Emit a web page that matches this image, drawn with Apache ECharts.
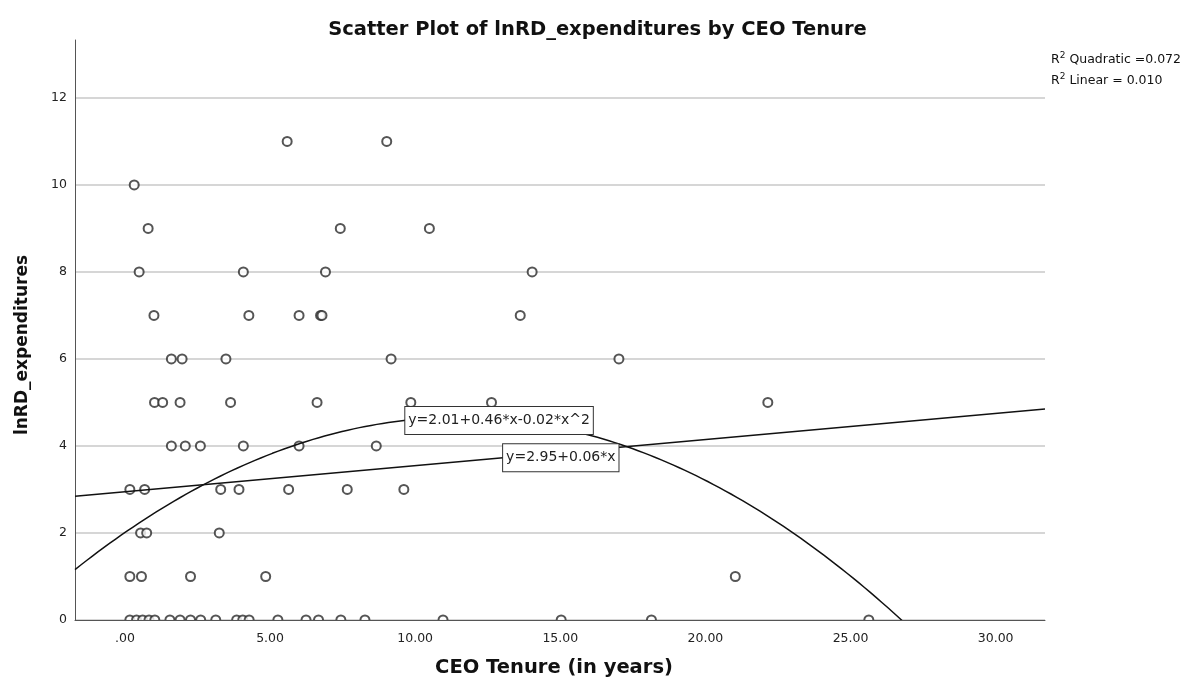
<!DOCTYPE html>
<html>
<head>
<meta charset="utf-8">
<script src="https://cdn.jsdelivr.net/npm/echarts@6/dist/echarts.min.js"></script>
<style>
  html, body { margin: 0; padding: 0; background: #fff; }
  #chart { width: 1195px; height: 690px; }
</style>
</head>
<body>
<div id="chart"></div>
<script>
// lnRD_expenditures (y) against CEO tenure in years (x)
const tenure = [
  5.59, 9.02,
  0.32,
  0.80, 7.42, 10.49,
  0.49, 4.08, 6.91, 14.03,
  1.00, 4.27, 6.00, 6.74, 6.79, 13.62,
  1.60, 1.97, 3.48, 9.17, 17.02,
  1.02, 1.30, 1.90, 3.64, 6.62, 9.85, 12.63, 22.15,
  1.60, 2.08, 2.60, 4.08, 6.00, 8.66,
  0.17, 0.68, 3.30, 3.93, 5.64, 7.66, 9.61,
  0.54, 0.75, 3.25,
  0.17, 0.57, 2.26, 4.85, 21.03,
  0.17, 0.40, 0.61, 0.83, 1.03, 1.55, 1.90, 2.26, 2.61, 3.13, 3.85, 4.06,
  4.28, 5.27, 6.24, 6.67, 7.44, 8.27, 10.96, 15.03, 18.14, 25.63
]
const lnRD = [
  11, 11,
  10,
  9, 9, 9,
  8, 8, 8, 8,
  7, 7, 7, 7, 7, 7,
  6, 6, 6, 6, 6,
  5, 5, 5, 5, 5, 5, 5, 5,
  4, 4, 4, 4, 4, 4,
  3, 3, 3, 3, 3, 3, 3,
  2, 2, 2,
  1, 1, 1, 1, 1,
  0, 0, 0, 0, 0, 0, 0, 0, 0, 0, 0, 0,
  0, 0, 0, 0, 0, 0, 0, 0, 0, 0
]

// fit coefficients printed on the chart
const quadCoef = [2.01, 0.46, -0.02]
const linCoef = [2.95, 0.06]
const quadLabelX = 9.66
const linLabelX = 13.03
const xTicks = [0, 5, 10, 15, 20, 25, 30]
const yTicks = [0, 2, 4, 6, 8, 10, 12]

const xMin = -1.72
const xMax = 31.7

const quad = x => quadCoef[0] + quadCoef[1] * x + quadCoef[2] * x * x
const lin = x => linCoef[0] + linCoef[1] * x

const quadLine = []
for (let x = xMin; x <= xMax; x += 0.2) quadLine.push([x, quad(x)])
const linLine = [[xMin, lin(xMin)], [xMax, lin(xMax)]]

const FONT = 'DejaVu Sans'

const boxLabel = {
  show: true,
  position: 'right',
  distance: 0,
  color: '#222',
  fontFamily: FONT,
  fontSize: 14,
  backgroundColor: '#fff',
  borderColor: '#333',
  borderWidth: 1,
  padding: [7, 3, 6, 3]
}

const chart = echarts.init(document.getElementById('chart'))
chart.setOption({
  animation: false,
  textStyle: { fontFamily: FONT },
  title: [
    {
      text: 'Scatter Plot of lnRD_expenditures by CEO Tenure',
      left: 'center',
      top: 15,
      textStyle: { fontFamily: FONT, fontSize: 19.5, fontWeight: 'bold', color: '#111' }
    },
    {
      text: 'R{sup|2} Quadratic =0.072\nR{sup|2} Linear = 0.010',
      left: 1046,
      top: 44,
      textStyle: {
        fontFamily: FONT,
        fontSize: 12.5,
        fontWeight: 'normal',
        color: '#111',
        lineHeight: 21,
        rich: {
          sup: { fontFamily: FONT, fontSize: 9, padding: [0, 0, 7, 0], color: '#111' }
        }
      }
    }
  ],
  grid: { left: 75, right: 150, top: 40, bottom: 70 },
  xAxis: {
    type: 'value',
    min: xMin,
    max: xMax,
    zlevel: 1,
    z: 200,
    name: 'CEO Tenure (in years)',
    nameLocation: 'middle',
    nameGap: 38,
    nameTextStyle: { fontFamily: FONT, fontSize: 19.5, fontWeight: 'bold', color: '#111', padding: [0, 12, 0, 0] },
    axisLine: { lineStyle: { color: '#555', width: 1 } },
    axisTick: { show: false },
    splitLine: { show: false },
    axisLabel: {
      customValues: xTicks,
      margin: 12,
      fontSize: 12.5,
      color: '#222',
      formatter: v => v.toFixed(2).replace(/^0/, '')
    }
  },
  yAxis: {
    type: 'value',
    min: 0,
    max: 13.33,
    interval: 2,
    name: 'lnRD_expenditures',
    nameLocation: 'middle',
    nameGap: 44,
    nameTextStyle: { fontFamily: FONT, fontSize: 17, fontWeight: 'bold', color: '#111', padding: [0, 30, 0, 0] },
    axisLine: { show: true, onZero: false, lineStyle: { color: '#555', width: 1 } },
    axisTick: { show: false },
    splitLine: { showMaxLine: false, lineStyle: { color: '#c8c8c8', width: 1.5 } },
    axisLabel: { customValues: yTicks, margin: 8, fontSize: 12.5, color: '#222' }
  },
  graphic: {
    zlevel: 1,
    z: 100,
    elements: [
      {
        type: 'rect',
        zlevel: 1,
        z: 100,
        silent: true,
        shape: { x: 76, y: 621, width: 972, height: 8 },
        style: { fill: '#fff' }
      }
    ]
  },
  series: [
    {
      type: 'scatter',
      data: tenure.map((t, i) => [t, lnRD[i]]),
      symbol: 'emptyCircle',
      symbolSize: 9,
      itemStyle: { color: '#2b2b2b', borderWidth: 1.3 },
      z: 3
    },
    {
      type: 'line',
      data: quadLine,
      showSymbol: false,
      lineStyle: { color: '#111', width: 1.5 },
      z: 4,
      markPoint: {
        symbol: 'rect',
        symbolSize: 0,
        data: [{ coord: [quadLabelX, quad(quadLabelX)], value: 'quad' }],
        label: Object.assign({}, boxLabel, { formatter: 'y=2.01+0.46*x-0.02*x^2' })
      }
    },
    {
      type: 'line',
      data: linLine,
      showSymbol: false,
      lineStyle: { color: '#111', width: 1.5 },
      z: 4,
      markPoint: {
        symbol: 'rect',
        symbolSize: 0,
        data: [{ coord: [linLabelX, lin(linLabelX)], value: 'lin' }],
        label: Object.assign({}, boxLabel, { formatter: 'y=2.95+0.06*x' })
      }
    }
  ]
})
</script>
</body>
</html>
